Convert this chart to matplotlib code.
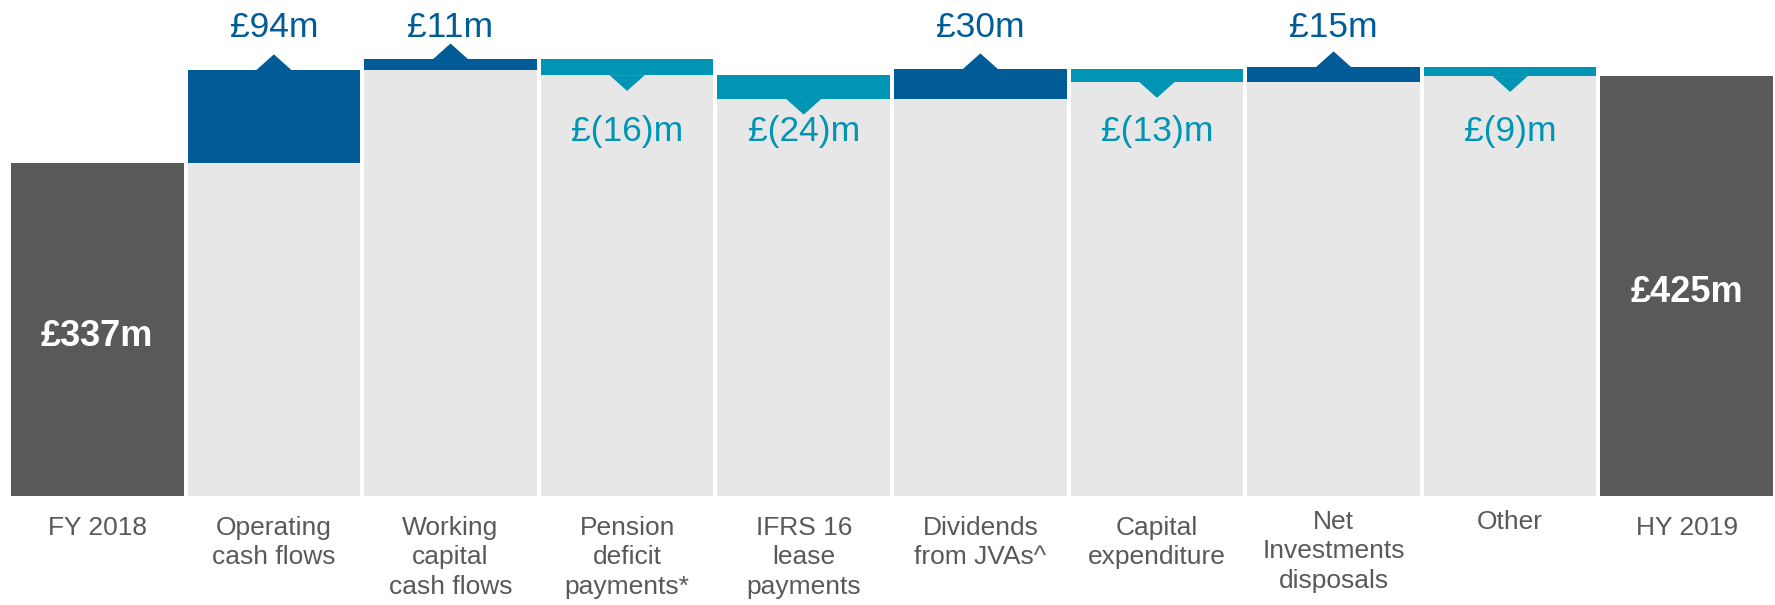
import matplotlib.pyplot as plt
from matplotlib.patches import Polygon
import numpy as np

plt.rcParams['font.family'] = ['Liberation Sans', 'DejaVu Sans']

# data
categories = ['FY 2018', 'Operating\ncash flows', 'Working\ncapital\ncash flows',
              'Pension\ndeficit\npayments*', 'IFRS 16\nlease\npayments',
              'Dividends\nfrom JVAs^', 'Capital\nexpenditure',
              'Net\nInvestments\ndisposals', 'Other', 'HY 2019']
start_total = 337
changes = [94, 11, -16, -24, 30, -13, 15, -9]
end_total = 425
change_labels = ['£94m', '£11m', '£(16)m', '£(24)m', '£30m', '£(13)m', '£15m', '£(9)m']

blue = '#005b97'
teal = '#0094b5'
dark = '#595959'
light = '#e7e7e7'

fig = plt.figure(figsize=(17.75, 6.05), dpi=100)
ax = fig.add_axes([0.0062, 0.18, 0.9927, 0.82])

w = 0.977
x = np.arange(len(categories))

# totals
ax.bar(x[0], start_total, width=w, color=dark)
ax.bar(x[-1], end_total, width=w, color=dark)
ax.text(x[0], start_total / 2 - 7, '£337m', ha='center', va='center',
        color='white', fontsize=26, fontweight='bold')
ax.text(x[-1], end_total / 2 - 6, '£425m', ha='center', va='center',
        color='white', fontsize=26, fontweight='bold')

# steps
tri_half, tri_h = 0.1, 16
level = start_total
for i, (c, lab) in enumerate(zip(changes, change_labels), start=1):
    new = level + c
    lo, hi = min(level, new), max(level, new)
    col = blue if c > 0 else teal
    ax.bar(i, lo, width=w, color=light)
    ax.bar(i, hi - lo, bottom=lo, width=w, color=col)
    if c > 0:
        tri = [(i - tri_half, hi), (i + tri_half, hi), (i, hi + tri_h)]
        ax.text(i, 474, lab, ha='center', va='center', color=col, fontsize=25.5)
    else:
        tri = [(i - tri_half, lo), (i + tri_half, lo), (i, lo - tri_h)]
        ax.text(i, 369, lab, ha='center', va='center', color=col, fontsize=25.5)
    ax.add_patch(Polygon(tri, closed=True, color=col, lw=0))
    level = new

ax.set_xlim(-w / 2, len(categories) - 1 + w / 2)
ax.set_ylim(0, 502)
ax.set_xticks(x)
ax.set_xticklabels(categories, fontsize=19, color=dark, linespacing=1.3)
ax.tick_params(axis='x', length=0, pad=14)
# the reference sets these two a little higher
for t in ax.get_xticklabels()[7:9]:
    t.set_y(t.get_position()[1] + 0.012)
ax.set_yticks([])
for s in ax.spines.values():
    s.set_visible(False)

fig.savefig('out.png', dpi=100)
